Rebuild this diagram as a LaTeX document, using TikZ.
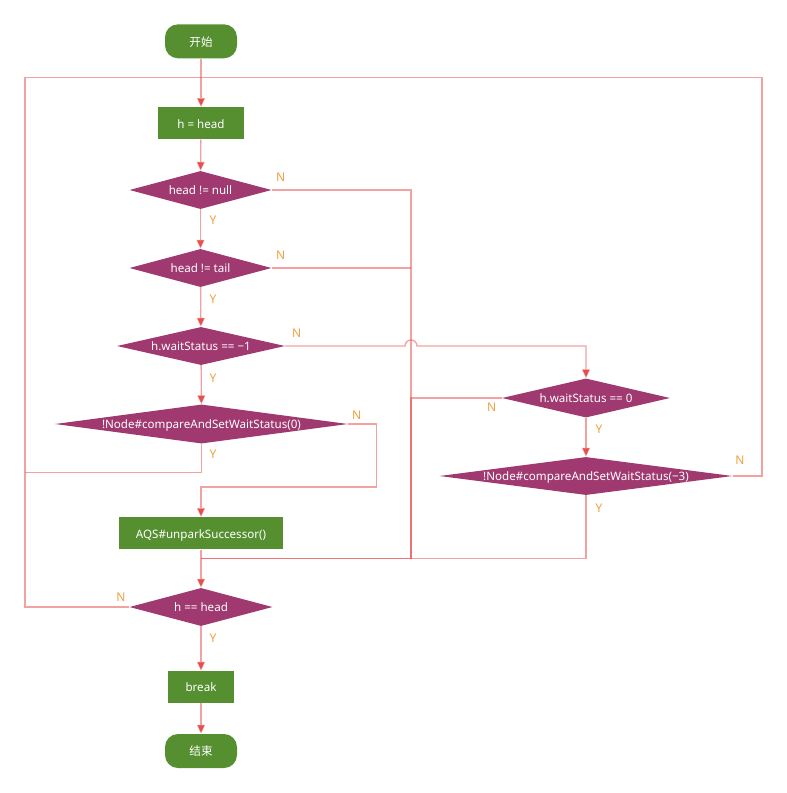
\documentclass[tikz,border=0pt]{standalone}
\usepackage{fontspec}
\setmainfont{Noto Sans}
\newfontfamily\cjk{Noto Sans CJK SC}
\usetikzlibrary{shapes.geometric,arrows.meta}
\definecolor{boxgreen}{RGB}{85,143,48}
\definecolor{dmpurple}{RGB}{160,57,112}
\definecolor{linecol}{RGB}{231,69,69}
\definecolor{tipcol}{RGB}{232,80,77}
\definecolor{lblcol}{RGB}{240,160,64}
\tikzset{
  txt/.style={text=white, font=\fontsize{11.6}{13}\selectfont, text height=9.5pt, text depth=0pt, inner sep=0pt},
  term/.style={txt, rectangle, rounded corners=13pt, fill=boxgreen, minimum width=72pt, minimum height=34pt},
  proc/.style={txt, rectangle, fill=boxgreen, minimum height=32pt},
  dec/.style={txt, diamond, fill=dmpurple, minimum height=38pt},
  lbl/.style={text=lblcol, font=\fontsize{12}{13}\selectfont, inner sep=0pt},
  line/.style={draw=linecol, draw opacity=0.5, line width=1.3pt},
  arr/.style={line, -{Triangle[width=8pt,length=9pt,fill=tipcol]}}
}
\begin{document}
\begin{tikzpicture}[x=1pt,y=-1pt]
\useasboundingbox (0,0) rectangle (787,793);
% nodes
\node[term] (start) at (201,41.3) {\cjk 开始};
\node[proc, minimum width=86pt] (hh) at (201,123.3) {h = head};
\node[dec, minimum width=142pt, shape aspect=3.7] (d1) at (200.5,190) {head != null};
\node[dec, minimum width=142pt, shape aspect=3.7] (d2) at (200.5,268) {head != tail};
\node[dec, minimum width=168pt, shape aspect=4.4] (d3) at (201,346) {h.waitStatus == −1};
\node[dec, minimum width=293pt, minimum height=39pt, shape aspect=7.5] (d4) at (201.5,424) {!Node\#compareAndSetWaitStatus(0)};
\node[dec, minimum width=168pt, minimum height=39pt, shape aspect=4.3] (d5) at (586,398) {h.waitStatus == 0};
\node[dec, minimum width=293pt, shape aspect=7.7] (d6) at (586,476) {!Node\#compareAndSetWaitStatus(−3)};
\node[proc, minimum width=164pt] (aqs) at (201,533.3) {AQS\#unparkSuccessor()};
\node[dec, minimum width=143pt, shape aspect=3.76] (d7) at (201,607) {h == head};
\node[proc, minimum width=66pt] (brk) at (201,687) {break};
\node[term] (endn) at (201,751) {\cjk 结束};
% helper coordinates
\coordinate (cL) at (25,77.7);
\coordinate (cR) at (762,77.7);
\coordinate (c1) at (25,472.7);
\coordinate (c2) at (376.7,487);
\coordinate (c3) at (411,558.7);
\coordinate (m) at (201,558.7);
% main flow
\draw[arr] (start) -- (hh);
\draw[arr] (hh) -- (d1);
\draw[arr] (d1) -- (d2);
\draw[arr] (d2) -- (d3);
\draw[arr] (d3) -- (d4);
\draw[arr] (d5) -- (d6);
\draw[arr] (aqs) -- (d7);
\draw[arr] (d7) -- (brk);
\draw[arr] (brk) -- (endn);
% loop back
\draw[line] (d7.west) -- (d7.west -| cL) -- (cL) -- (cR) -- (cR |- d6.east) -- (d6.east);
\draw[line] (d4.south) -- (d4.south |- c1) -- (c1);
% d4 N -> aqs
\draw[arr] (d4.east) -| (c2) -| (aqs.north);
% head != null / tail N
\draw[line] (d1.east) -| (c3) -- (m);
\draw[line] (d2.east) -- (d2.east -| c3);
% d3 N -> d5 with jump
\draw[arr] (d3.east) -- (405,346) arc[start angle=180, end angle=0, radius=6pt] -- (d5.north |- d3.east) -- (d5.north);
% d5 N
\draw[line] (d5.west) -| (c3);
% d6 Y
\draw[line] (d6.south) |- (m);
% labels
\node[lbl] (n1) at (280.7,177.3) {N};
\node[lbl] (y1) at (213,220) {Y};
\node[lbl] (n2) at (280.7,255.6) {N};
\node[lbl] (y2) at (213,299) {Y};
\node[lbl] (n3) at (296.7,333) {N};
\node[lbl] (y3) at (213,378) {Y};
\node[lbl] (n4) at (356.7,415) {N};
\node[lbl] (y4) at (213,454) {Y};
\node[lbl] (n5) at (491.7,407.7) {N};
\node[lbl] (y5) at (599,429) {Y};
\node[lbl] (n6) at (740,460.7) {N};
\node[lbl] (y6) at (599,508) {Y};
\node[lbl] (n7) at (121,597.7) {N};
\node[lbl] (y7) at (213,638) {Y};
\end{tikzpicture}
\end{document}
